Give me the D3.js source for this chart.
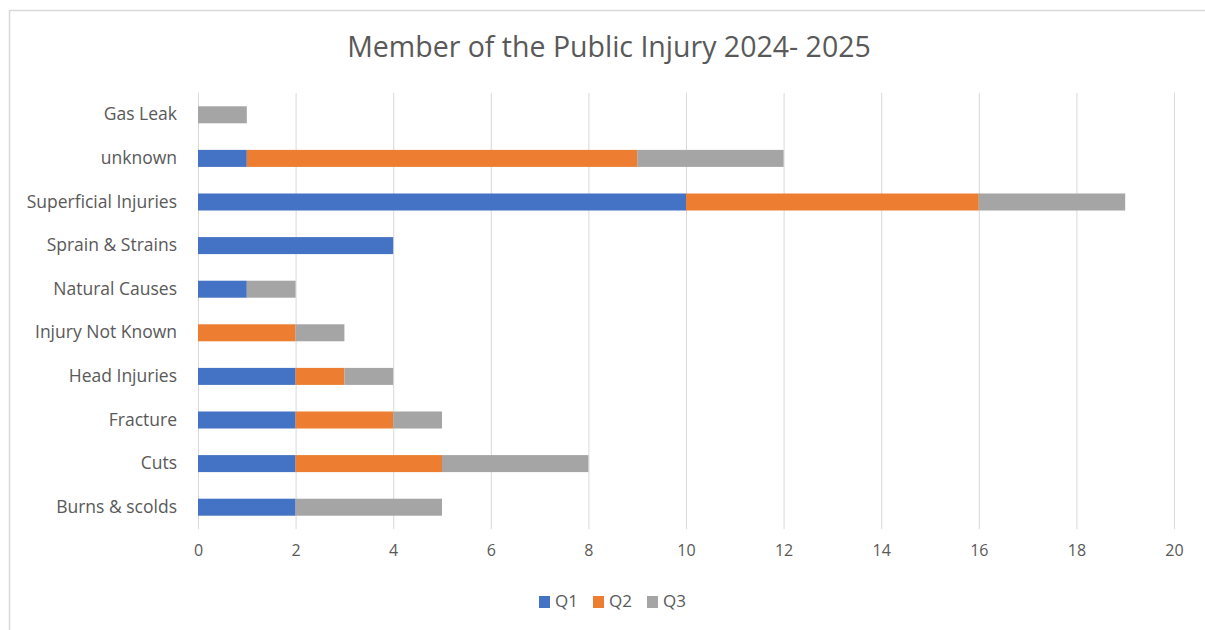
<!DOCTYPE html>
<html><head><meta charset="utf-8">
<script src="https://cdn.jsdelivr.net/npm/d3@7"></script>
<style>body{margin:0;background:#fff;} svg{display:block;font-family:"Open Sans",sans-serif;}</style>
</head><body><svg id="c" width="1205" height="630"></svg>
<script>
const categories = ["Gas Leak","unknown","Superficial Injuries","Sprain & Strains","Natural Causes","Injury Not Known","Head Injuries","Fracture","Cuts","Burns & scolds"];
const q1 = [0,1,10,4,1,0,2,2,2,2];
const q2 = [0,8,6,0,0,2,1,2,3,0];
const q3 = [1,3,3,0,1,1,1,1,3,3];
const seriesNames = ["Q1","Q2","Q3"];
const colors = ["#4472C4","#ED7D31","#A5A5A5"];
const xTicks = [0,2,4,6,8,10,12,14,16,18,20];

const svg = d3.select("#c");
svg.append("rect").attr("x",9.5).attr("y",10.5).attr("width",1220).attr("height",640)
  .attr("fill","none").attr("stroke","#d9d9d9").attr("stroke-width",1.5);

svg.append("text").attr("x",609).attr("y",57).attr("text-anchor","middle")
  .attr("font-size",28.5).attr("fill","#595959").text("Member of the Public Injury 2024- 2025");

const x = d3.scaleLinear().domain([0,20]).range([198,1174]);
const y = d3.scaleBand().domain(categories).range([93,529]).paddingInner(0.61).paddingOuter(0.305);

svg.append("g").selectAll("line").data(xTicks).join("line")
  .attr("x1",d=>x(d)+0.5).attr("x2",d=>x(d)+0.5).attr("y1",93).attr("y2",529)
  .attr("stroke","#d9d9d9").attr("stroke-width",1);

const rows = categories.map((c,i)=>({cat:c,Q1:q1[i],Q2:q2[i],Q3:q3[i]}));
const stack = d3.stack().keys(seriesNames)(rows);
svg.append("g").selectAll("g").data(stack).join("g").attr("fill",(d,i)=>colors[i])
  .selectAll("rect").data(d=>d).join("rect")
  .attr("x",d=>x(d[0])).attr("width",d=>x(d[1])-x(d[0]))
  .attr("y",d=>y(d.data.cat)).attr("height",y.bandwidth());

const xa = svg.append("g").attr("transform","translate(0,529)")
  .call(d3.axisBottom(x).tickValues(xTicks).tickSize(0).tickPadding(16));
xa.select(".domain").remove();
xa.selectAll("text").attr("font-size",16).attr("fill","#595959").attr("font-family","'Open Sans',sans-serif");

const ya = svg.append("g").attr("transform","translate(198,0)")
  .call(d3.axisLeft(y).tickSize(0).tickPadding(21));
ya.select(".domain").remove();
ya.selectAll("text").attr("font-size",17.5).attr("fill","#595959").attr("font-family","'Open Sans',sans-serif");

const lg = svg.append("g");
const lx = [539,593,647];
seriesNames.forEach((s,i)=>{
  lg.append("rect").attr("x",lx[i]).attr("y",596).attr("width",11).attr("height",12).attr("fill",colors[i]);
  lg.append("text").attr("x",lx[i]+16).attr("y",607).attr("font-size",17).attr("fill","#595959").text(s);
});
</script></body></html>
